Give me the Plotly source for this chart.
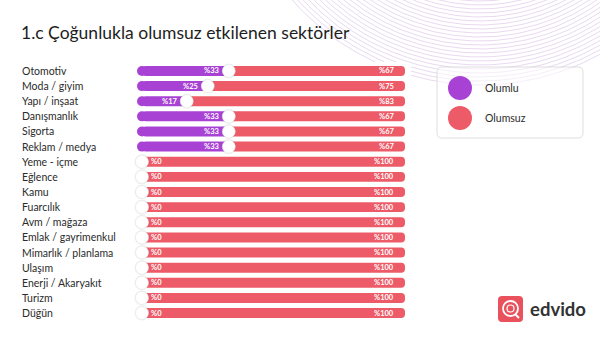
import math
import plotly.graph_objects as go

# Sectors and share of positive / negative impact (%)
sectors = ["Otomotiv", "Moda / giyim", "Yapı / inşaat", "Danışmanlık", "Sigorta",
           "Reklam / medya", "Yeme - içme", "Eğlence", "Kamu", "Fuarcılık",
           "Avm / mağaza", "Emlak / gayrimenkul", "Mimarlık / planlama", "Ulaşım",
           "Enerji / Akaryakıt", "Turizm", "Düğün"]
olumlu = [33, 25, 17, 33, 33, 33, 0, 0, 0, 0, 0, 0, 0, 0, 0, 0, 0]
olumsuz = [67, 75, 83, 67, 67, 67, 100, 100, 100, 100, 100, 100, 100, 100, 100, 100, 100]

title = "1.c Çoğunlukla olumsuz etkilenen sektörler"
legend_names = ["Olumlu", "Olumsuz"]
brand = "edvido"

PURPLE = "#a842d4"
RED = "#ec5b67"
FONT = "Lato"
W, H = 600, 340


def px(x):
    return x / W


def py(y):
    return 1 - y / H


def rounded_rect(x0, y0, x1, y1, r):
    """Rounded rectangle path in paper fractions, given pixel corners."""
    pts = [
        f"M{px(x0 + r)},{py(y0)}",
        f"L{px(x1 - r)},{py(y0)}",
        f"Q{px(x1)},{py(y0)} {px(x1)},{py(y0 + r)}",
        f"L{px(x1)},{py(y1 - r)}",
        f"Q{px(x1)},{py(y1)} {px(x1 - r)},{py(y1)}",
        f"L{px(x0 + r)},{py(y1)}",
        f"Q{px(x0)},{py(y1)} {px(x0)},{py(y1 - r)}",
        f"L{px(x0)},{py(y0 + r)}",
        f"Q{px(x0)},{py(y0)} {px(x0 + r)},{py(y0)}",
        "Z",
    ]
    return " ".join(pts)


fig = go.Figure()

# decorative concentric arcs in the top right, on a full-page pixel subplot
CX, CY = 480, -165
for i in range(22):
    r = 166 + i * 4
    xs, ys = [], []
    for k in range(0, 601, 3):
        d = r * r - (k - CX) ** 2
        if d < 0:
            continue
        yv = CY + math.sqrt(d)
        if 132 <= k <= 410 and yv >= 62:
            xs.append(None)
            ys.append(None)
            continue
        xs.append(k)
        ys.append(yv)
    fig.add_trace(go.Scatter(
        x=xs, y=ys, xaxis="x2", yaxis="y2", mode="lines",
        line=dict(color="#ead9f1", width=1), connectgaps=False,
        hoverinfo="skip", showlegend=False,
    ))

# negative share: from the positive share up to 100
fig.add_trace(go.Bar(
    y=sectors, x=olumsuz, base=olumlu, orientation="h",
    marker=dict(color=RED, cornerradius=5, line=dict(width=0)),
    name=legend_names[1], hoverinfo="skip",
))
# positive share
fig.add_trace(go.Bar(
    y=sectors, x=olumlu, base=[0] * len(sectors), orientation="h",
    marker=dict(color=PURPLE, cornerradius=5, line=dict(width=0)),
    name=legend_names[0], hoverinfo="skip",
))
# rounded left cap of the positive bars
cap_y = [s for s, v in zip(sectors, olumlu) if v > 0]
fig.add_trace(go.Scatter(
    y=cap_y, x=[0] * len(cap_y), mode="markers",
    marker=dict(color=PURPLE, size=10, line=dict(width=0)),
    cliponaxis=False, hoverinfo="skip", showlegend=False,
))
# white slider knob at the split point (soft shadow ring + knob)
fig.add_trace(go.Scatter(
    y=sectors, x=olumlu, mode="markers",
    marker=dict(color="rgba(0,0,0,0.06)", size=15, line=dict(width=0)),
    cliponaxis=False, hoverinfo="skip", showlegend=False,
))
fig.add_trace(go.Scatter(
    y=sectors, x=olumlu, mode="markers",
    marker=dict(color="white", size=13, line=dict(width=0.6, color="#e6e6e6")),
    cliponaxis=False, hoverinfo="skip", showlegend=False,
))

annotations = []
lbl_font = dict(family=FONT, size=7.5, color="white")
for s, p, n in zip(sectors, olumlu, olumsuz):
    if p > 0:
        annotations.append(dict(x=p, y=s, xref="x", yref="y", text=f"<b>%{p}</b>",
                                showarrow=False, xanchor="right", xshift=-8,
                                font=lbl_font))
    else:
        annotations.append(dict(x=0, y=s, xref="x", yref="y", text=f"<b>%{p}</b>",
                                showarrow=False, xanchor="left", xshift=7,
                                font=lbl_font))
    annotations.append(dict(x=p + n, y=s, xref="x", yref="y", text=f"<b>%{n}</b>",
                            showarrow=False, xanchor="right", xshift=-9,
                            font=lbl_font))
    # sector name on the left
    annotations.append(dict(x=px(20), y=s, xref="paper", yref="y", text=s,
                            showarrow=False, xanchor="left", yanchor="middle",
                            font=dict(family=FONT, size=10.5, color="#2b2b2b")))

annotations.append(dict(x=px(19), y=py(32), xref="paper", yref="paper", text=title,
                        showarrow=False, xanchor="left", yanchor="middle",
                        font=dict(family=FONT, size=17.5, color="#1e1e1e")))

shapes = []
# legend box
shapes.append(dict(type="path", xref="paper", yref="paper",
                   path=rounded_rect(437, 67, 583, 138, 5),
                   fillcolor="rgba(255,255,255,0.55)",
                   line=dict(color="#d6d6d6", width=0.8), layer="above"))

# legend swatches
for (cy, col, name) in [(88, PURPLE, legend_names[0]), (118, RED, legend_names[1])]:
    shapes.append(dict(type="circle", xref="paper", yref="paper",
                       x0=px(448), x1=px(472), y0=py(cy + 12), y1=py(cy - 12),
                       fillcolor=col, line=dict(width=0), layer="above"))
    annotations.append(dict(x=px(483), y=py(cy), xref="paper", yref="paper", text=name,
                            showarrow=False, xanchor="left", yanchor="middle",
                            font=dict(family=FONT, size=10.5, color="#2b2b2b")))

# brand mark
shapes.append(dict(type="path", xref="paper", yref="paper",
                   path=rounded_rect(498, 296, 523, 322, 4),
                   fillcolor="#e9515c", line=dict(width=0)))
shapes.append(dict(type="circle", xref="paper", yref="paper",
                   x0=px(503), x1=px(518), y0=py(316), y1=py(301),
                   fillcolor="rgba(0,0,0,0)", line=dict(color="white", width=1.8)))
shapes.append(dict(type="circle", xref="paper", yref="paper",
                   x0=px(507), x1=px(514), y0=py(312), y1=py(305),
                   fillcolor="rgba(0,0,0,0)", line=dict(color="white", width=1.2)))
shapes.append(dict(type="line", xref="paper", yref="paper",
                   x0=px(515), x1=px(519), y0=py(314), y1=py(318),
                   line=dict(color="white", width=2)))
annotations.append(dict(x=px(528), y=py(309), xref="paper", yref="paper",
                        text=f"<b>{brand}</b>", showarrow=False, xanchor="left",
                        yanchor="middle",
                        font=dict(family=FONT, size=18.5, color="#333333")))

n = len(sectors)
fig.update_layout(
    width=W, height=H,
    margin=dict(l=0, r=0, t=0, b=0),
    paper_bgcolor="white", plot_bgcolor="rgba(0,0,0,0)",
    barmode="overlay", bargap=0.34,
    showlegend=False,
    xaxis=dict(domain=[px(142), px(405)], range=[0, 100], visible=False, fixedrange=True),
    yaxis=dict(domain=[py(320.6), py(63.4)], categoryorder="array", categoryarray=sectors,
               range=[n - 0.5, -0.5], visible=False, fixedrange=True),
    xaxis2=dict(domain=[0, 1], range=[0, W], visible=False, fixedrange=True, anchor="y2"),
    yaxis2=dict(domain=[0, 1], range=[H, 0], visible=False, fixedrange=True, anchor="x2"),
    shapes=shapes, annotations=annotations,
)

fig.write_html("out.html")
